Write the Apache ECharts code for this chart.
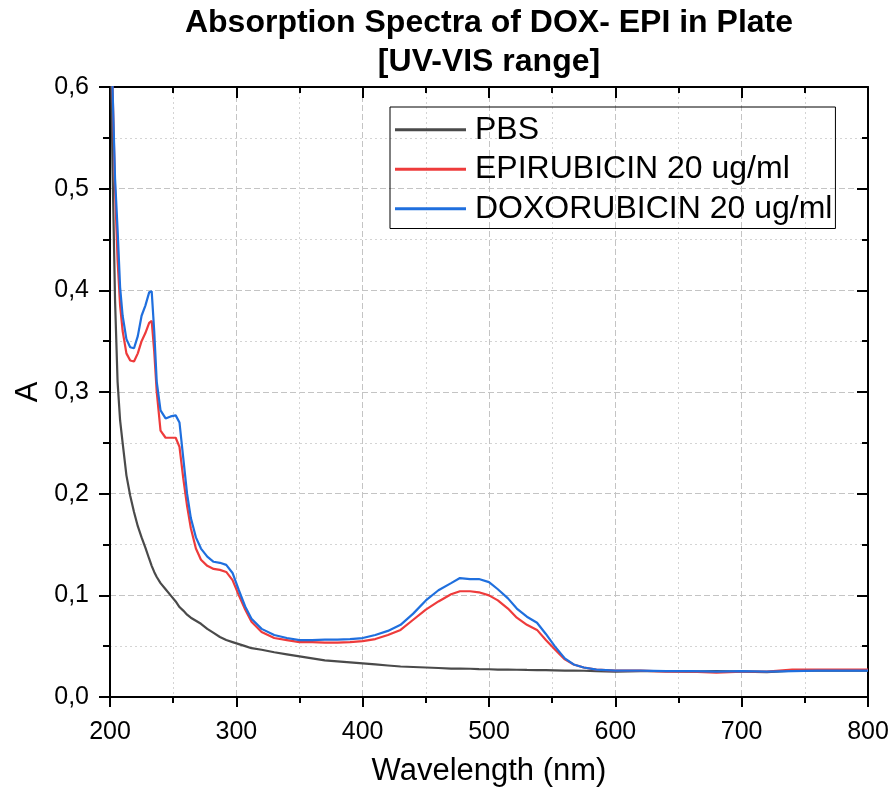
<!DOCTYPE html>
<html>
<head>
<meta charset="utf-8">
<script src="https://cdn.jsdelivr.net/npm/echarts@6/dist/echarts.min.js"></script>
<style>
  html, body { margin: 0; padding: 0; background: #fff; }
  #chart { width: 894px; height: 794px; }
</style>
</head>
<body>
<div id="chart"></div>
<script>
// wavelength grid (nm), shared by all three spectra
const wavelength = [200, 202, 204, 206, 208, 210, 213, 216, 219, 222, 225, 228, 231, 233, 235, 237, 240, 244, 248, 252, 255, 258, 261, 264, 268, 272, 277, 282, 287, 292, 297, 302, 307, 312, 320, 330, 340, 350, 360, 370, 380, 390, 400, 410, 420, 430, 440, 450, 460, 470, 477, 485, 492, 500, 507, 515, 522, 530, 538, 545, 552, 560, 567, 575, 585, 600, 620, 640, 660, 680, 700, 720, 740, 760, 780, 800];

const pbs = [0.70, 0.52, 0.39, 0.31, 0.272, 0.25, 0.218, 0.198, 0.182, 0.168, 0.157, 0.147, 0.136, 0.129, 0.123, 0.118, 0.112, 0.106, 0.100, 0.094, 0.0885, 0.085, 0.081, 0.078, 0.075, 0.072, 0.067, 0.063, 0.059, 0.056, 0.054, 0.052, 0.050, 0.048, 0.0465, 0.044, 0.042, 0.040, 0.038, 0.036, 0.035, 0.034, 0.033, 0.032, 0.031, 0.030, 0.0295, 0.029, 0.0285, 0.028, 0.028, 0.0278, 0.0275, 0.0273, 0.027, 0.027, 0.0268, 0.0266, 0.0265, 0.0264, 0.0262, 0.026, 0.026, 0.0258, 0.0255, 0.025, 0.0255, 0.0255, 0.025, 0.0255, 0.025, 0.0245, 0.026, 0.026, 0.026, 0.026];

const epirubicin = [0.85, 0.60, 0.50, 0.43, 0.385, 0.36, 0.338, 0.331, 0.330, 0.338, 0.350, 0.358, 0.368, 0.370, 0.34, 0.30, 0.262, 0.255, 0.255, 0.255, 0.246, 0.215, 0.188, 0.166, 0.146, 0.135, 0.129, 0.126, 0.125, 0.123, 0.115, 0.100, 0.086, 0.074, 0.064, 0.058, 0.056, 0.054, 0.054, 0.0535, 0.0535, 0.054, 0.055, 0.057, 0.061, 0.066, 0.076, 0.086, 0.094, 0.101, 0.104, 0.104, 0.103, 0.100, 0.095, 0.087, 0.078, 0.071, 0.066, 0.056, 0.047, 0.037, 0.032, 0.029, 0.027, 0.026, 0.026, 0.025, 0.025, 0.024, 0.025, 0.025, 0.027, 0.027, 0.027, 0.027];

const doxorubicin = [0.85, 0.60, 0.51, 0.46, 0.403, 0.375, 0.352, 0.344, 0.343, 0.355, 0.375, 0.385, 0.398, 0.399, 0.36, 0.31, 0.282, 0.274, 0.276, 0.277, 0.270, 0.235, 0.200, 0.176, 0.157, 0.146, 0.138, 0.133, 0.132, 0.130, 0.122, 0.105, 0.089, 0.077, 0.067, 0.061, 0.058, 0.056, 0.056, 0.0565, 0.0565, 0.057, 0.058, 0.061, 0.065, 0.071, 0.082, 0.095, 0.105, 0.112, 0.117, 0.116, 0.116, 0.113, 0.106, 0.097, 0.087, 0.079, 0.073, 0.062, 0.050, 0.038, 0.032, 0.029, 0.027, 0.026, 0.026, 0.0255, 0.0255, 0.025, 0.0255, 0.025, 0.0255, 0.026, 0.026, 0.026];

const seriesNames = ['PBS', 'EPIRUBICIN 20 ug/ml', 'DOXORUBICIN 20 ug/ml'];
const seriesColors = ['#4a4a4a', '#ee3b3b', '#1f6fde'];
const seriesValues = [pbs, epirubicin, doxorubicin];

const FONT = 'Liberation Sans, Arial, sans-serif';

function pairs(ys) {
    return wavelength.map((x, i) => [x, ys[i]]);
}

function commaLabel(v) {
    return v.toFixed(1).replace('.', ',');
}

const chart = echarts.init(document.getElementById('chart'));

const axisLine = { show: true, onZero: false, lineStyle: { color: '#000', width: 2 } };
const majorGrid = { show: true, lineStyle: { color: '#c4c4c4', type: [6, 3], width: 1 } };
const minorGrid = { show: true, lineStyle: { color: '#d4d4d4', type: [2, 3], width: 1 } };

const option = {
    backgroundColor: '#fff',
    animation: false,
    title: {
        text: 'Absorption Spectra of DOX- EPI in Plate\n[UV-VIS range]',
        left: 489,
        top: 4,
        padding: 0,
        textAlign: 'center',
        textStyle: {
            fontFamily: FONT,
            fontSize: 32,
            fontWeight: 'bold',
            color: '#000',
            lineHeight: 39
        }
    },
    legend: {
        orient: 'vertical',
        left: 390,
        top: 107,
        padding: [3, 3, 0, 5],
        itemGap: 0,
        itemWidth: 71,
        itemHeight: 3,
        icon: 'rect',
        borderColor: '#000',
        borderWidth: 1,
        textStyle: {
            fontFamily: FONT,
            fontSize: 32,
            color: '#000',
            lineHeight: 39.5,
            padding: [0, 0, 0, 4]
        },
        data: seriesNames
    },
    grid: { left: 110, right: 26, top: 87, bottom: 97 },
    xAxis: [
        {
            type: 'value',
            position: 'bottom',
            min: 200,
            max: 800,
            interval: 100,
            name: 'Wavelength (nm)',
            nameLocation: 'middle',
            nameGap: 59,
            nameMoveOverlap: false,
            nameTextStyle: { fontFamily: FONT, fontSize: 31, color: '#000' },
            axisLine: axisLine,
            axisTick: { show: true, length: 10, lineStyle: { color: '#000', width: 2 } },
            minorTick: { show: true, splitNumber: 2, length: 6, lineStyle: { color: '#000', width: 2 } },
            axisLabel: { fontFamily: FONT, fontSize: 25, color: '#000', margin: 23 },
            splitLine: majorGrid,
            minorSplitLine: minorGrid
        },
        {
            type: 'value',
            position: 'top',
            min: 200,
            max: 800,
            interval: 100,
            axisLine: axisLine,
            axisTick: { show: true, inside: true, length: 11, lineStyle: { color: '#000', width: 2 } },
            minorTick: { show: true, splitNumber: 2, length: 6, lineStyle: { color: '#000', width: 2 } },
            axisLabel: { show: false },
            splitLine: { show: false }
        }
    ],
    yAxis: [
        {
            type: 'value',
            position: 'left',
            min: 0,
            max: 0.6,
            interval: 0.1,
            name: 'A',
            nameLocation: 'middle',
            nameGap: 66,
            nameMoveOverlap: false,
            nameTextStyle: { fontFamily: FONT, fontSize: 31, color: '#000' },
            axisLine: axisLine,
            axisTick: { show: true, length: 11, lineStyle: { color: '#000', width: 2 } },
            minorTick: { show: true, splitNumber: 2, length: 7, lineStyle: { color: '#000', width: 2 } },
            axisLabel: { fontFamily: FONT, fontSize: 25, color: '#000', margin: 21, formatter: commaLabel },
            splitLine: majorGrid,
            minorSplitLine: minorGrid
        },
        {
            type: 'value',
            position: 'right',
            min: 0,
            max: 0.6,
            interval: 0.1,
            axisLine: axisLine,
            axisTick: { show: true, inside: true, length: 11, lineStyle: { color: '#000', width: 2 } },
            minorTick: { show: true, splitNumber: 2, length: 6, lineStyle: { color: '#000', width: 2 } },
            axisLabel: { show: false },
            splitLine: { show: false }
        }
    ],
    series: seriesNames.map((name, i) => ({
        name: name,
        type: 'line',
        xAxisIndex: 0,
        yAxisIndex: 0,
        data: pairs(seriesValues[i]),
        showSymbol: false,
        symbol: 'none',
        clip: true,
        color: seriesColors[i],
        lineStyle: { color: seriesColors[i], width: 2.2 },
        z: 3 + i
    }))
};

chart.setOption(option);
</script>
</body>
</html>
